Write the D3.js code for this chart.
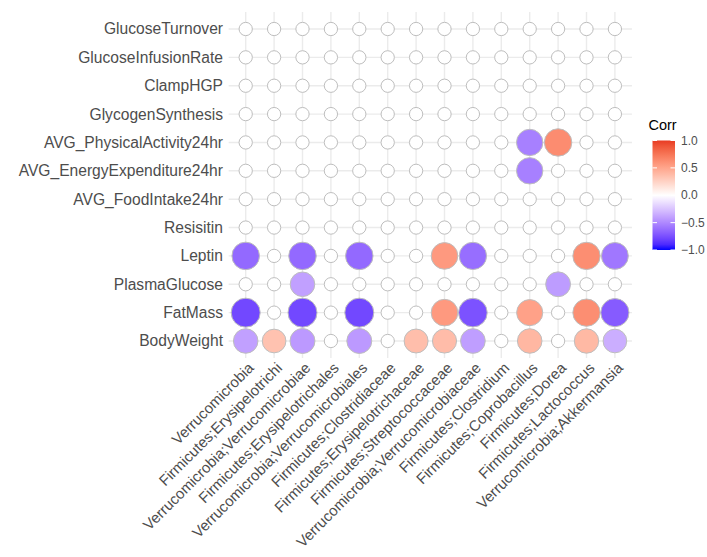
<!DOCTYPE html>
<html>
<head>
<meta charset="utf-8">
<script src="https://cdn.jsdelivr.net/npm/d3@7"></script>
<style>
    body { margin: 0; background: #fff; }
    text { font-family: "Liberation Sans", Arial, sans-serif; }
</style>
</head>
<body>
<div id="chart"></div>
<script>
// traits, top to bottom
let traits = ["GlucoseTurnover", "GlucoseInfusionRate", "ClampHGP", "GlycogenSynthesis",
    "AVG_PhysicalActivity24hr", "AVG_EnergyExpenditure24hr", "AVG_FoodIntake24hr",
    "Resisitin", "Leptin", "PlasmaGlucose", "FatMass", "BodyWeight"];

let taxa = ["Verrucomicrobia", "Firmicutes;Erysipelotrichi", "Verrucomicrobia;Verrucomicrobiae",
    "Firmicutes;Erysipelotrichales", "Verrucomicrobia;Verrucomicrobiales", "Firmicutes;Clostridiaceae",
    "Firmicutes;Erysipelotrichaceae", "Firmicutes;Streptococcaceae", "Verrucomicrobia;Verrucomicrobiaceae",
    "Firmicutes;Clostridium", "Firmicutes;Coprobacillus", "Firmicutes;Dorea",
    "Firmicutes;Lactococcus", "Verrucomicrobia;Akkermansia"];

// correlation per trait, one value per taxon (0 = not significant)
let glucoseTurnover      = [0, 0, 0, 0, 0, 0, 0, 0, 0, 0, 0, 0, 0, 0];
let glucoseInfusionRate  = [0, 0, 0, 0, 0, 0, 0, 0, 0, 0, 0, 0, 0, 0];
let clampHGP             = [0, 0, 0, 0, 0, 0, 0, 0, 0, 0, 0, 0, 0, 0];
let glycogenSynthesis    = [0, 0, 0, 0, 0, 0, 0, 0, 0, 0, 0, 0, 0, 0];
let physicalActivity     = [0, 0, 0, 0, 0, 0, 0, 0, 0, 0, -0.54, 0.63, 0, 0];
let energyExpenditure    = [0, 0, 0, 0, 0, 0, 0, 0, 0, 0, -0.54, 0, 0, 0];
let foodIntake           = [0, 0, 0, 0, 0, 0, 0, 0, 0, 0, 0, 0, 0, 0];
let resisitin            = [0, 0, 0, 0, 0, 0, 0, 0, 0, 0, 0, 0, 0, 0];
let leptin               = [-0.64, 0, -0.64, 0, -0.64, 0, 0, 0.56, -0.62, 0, 0, 0, 0.62, -0.58];
let plasmaGlucose        = [0, 0, -0.4, 0, 0, 0, 0, 0, 0, 0, 0, -0.42, 0, 0];
let fatMass              = [-0.78, 0, -0.78, 0, -0.78, 0, 0, 0.56, -0.74, 0, 0.52, 0, 0.62, -0.7];
let bodyWeight           = [-0.4, 0.34, -0.43, 0, -0.43, 0, 0.36, 0.37, -0.41, 0, 0.4, 0, 0.39, -0.34];

let traitValues = [glucoseTurnover, glucoseInfusionRate, clampHGP, glycogenSynthesis,
    physicalActivity, energyExpenditure, foodIntake, resisitin,
    leptin, plasmaGlucose, fatMass, bodyWeight];

let legendBreaks = [-1, -0.5, 0, 0.5, 1];

let cells = [];
traits.forEach(function(t, i) {
    traitValues[i].forEach(function(v, j) {
        cells.push({trait: t, taxon: taxa[j], value: v});
    });
});

let svg = d3.select("#chart").append("svg")
    .attr("width", 707)
    .attr("height", 557);

let xScale = d3.scalePoint().domain(taxa).range([245.7, 614.9]);
let yScale = d3.scalePoint().domain(traits).range([29, 341]);
let step = xScale.step();

let panel = {
    left: 245.7 - 0.6 * step, right: 614.9 + 0.6 * step,
    top: 29 - 0.6 * step, bottom: 341 + 0.6 * step
};

// blue - white - red in Lab (red end a little muted, as rendered in the reference)
let color = d3.scaleLinear()
    .domain([-1, 0, 1])
    .range(["blue", "white", d3.lab(53.2, 80.1 * 0.82, 67.2 * 0.82)])
    .interpolate(d3.interpolateLab);

let maxAbs = d3.max(cells, function(d) { return Math.abs(d.value); });
let radius = d3.scaleSqrt().domain([0, maxAbs]).range([6.65, 14.5]);

// grid
let grid = svg.append("g");
grid.selectAll(".vline")
    .data(taxa)
    .enter()
    .append("line")
    .attr("x1", function(d) { return xScale(d); })
    .attr("x2", function(d) { return xScale(d); })
    .attr("y1", panel.top)
    .attr("y2", panel.bottom)
    .attr("stroke", "#ebebeb")
    .attr("stroke-width", 1.4);
grid.selectAll(".hline")
    .data(traits)
    .enter()
    .append("line")
    .attr("x1", panel.left)
    .attr("x2", panel.right)
    .attr("y1", function(d) { return yScale(d); })
    .attr("y2", function(d) { return yScale(d); })
    .attr("stroke", "#ebebeb")
    .attr("stroke-width", 1.4);

// circles
svg.append("g")
    .selectAll("circle")
    .data(cells)
    .enter()
    .append("circle")
    .attr("cx", function(d) { return xScale(d.taxon); })
    .attr("cy", function(d) { return yScale(d.trait); })
    .attr("r", function(d) { return radius(Math.abs(d.value)); })
    .attr("fill", function(d) { return color(d.value); })
    .attr("stroke", "#bebebe")
    .attr("stroke-width", 1);

// y axis labels
svg.append("g")
    .selectAll("text")
    .data(traits)
    .enter()
    .append("text")
    .attr("x", 223)
    .attr("y", function(d) { return yScale(d); })
    .attr("dy", "0.35em")
    .attr("text-anchor", "end")
    .attr("font-size", 15.6)
    .attr("fill", "#4d4d4d")
    .text(function(d) { return d; });

// x axis labels, rotated 45
svg.append("g")
    .selectAll("text")
    .data(taxa)
    .enter()
    .append("text")
    .attr("transform", function(d) { return "translate(" + (xScale(d) + 1) + "," + 361 + ") rotate(-45)"; })
    .attr("dy", "0.75em")
    .attr("text-anchor", "end")
    .attr("font-size", 15)
    .attr("fill", "#4d4d4d")
    .text(function(d) { return d; });

// legend
let legend = svg.append("g");
let barX = 652.5, barW = 22.5;
let legendY = d3.scaleLinear().domain([-1, 1]).range([250, 140.5]);

let grad = svg.append("defs").append("linearGradient")
    .attr("id", "corrGrad")
    .attr("x1", 0).attr("x2", 0).attr("y1", 1).attr("y2", 0);
d3.range(0, 1.0001, 0.05).forEach(function(t) {
    grad.append("stop")
        .attr("offset", t)
        .attr("stop-color", color(-1 + 2 * t));
});

legend.append("text")
    .attr("x", barX - 4)
    .attr("y", 130)
    .attr("font-size", 14.5)
    .attr("fill", "#000")
    .text("Corr");

legend.append("rect")
    .attr("x", barX)
    .attr("y", legendY(1))
    .attr("width", barW)
    .attr("height", legendY(-1) - legendY(1))
    .attr("fill", "url(#corrGrad)");

legend.selectAll(".tickl")
    .data(legendBreaks)
    .enter()
    .append("line")
    .attr("x1", barX).attr("x2", barX + barW / 5)
    .attr("y1", function(d) { return legendY(d); })
    .attr("y2", function(d) { return legendY(d); })
    .attr("stroke", "#fff").attr("stroke-width", 1);
legend.selectAll(".tickr")
    .data(legendBreaks)
    .enter()
    .append("line")
    .attr("x1", barX + barW * 4 / 5).attr("x2", barX + barW)
    .attr("y1", function(d) { return legendY(d); })
    .attr("y2", function(d) { return legendY(d); })
    .attr("stroke", "#fff").attr("stroke-width", 1);

legend.selectAll(".lab")
    .data(legendBreaks)
    .enter()
    .append("text")
    .attr("x", barX + barW + 6)
    .attr("y", function(d) { return legendY(d); })
    .attr("dy", "0.35em")
    .attr("font-size", 12)
    .attr("fill", "#4d4d4d")
    .text(function(d) { return d3.format(".1f")(d).replace("-", "\u2212"); });
</script>
</body>
</html>
